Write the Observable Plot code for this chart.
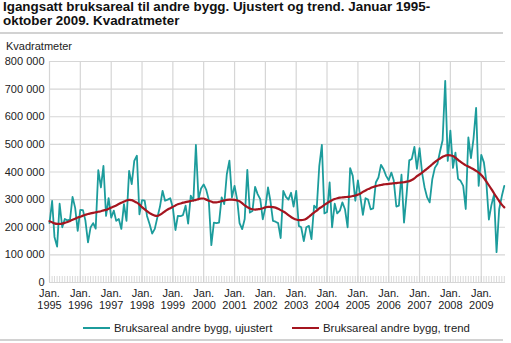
<!DOCTYPE html>
<html>
<head>
<meta charset="utf-8">
<script src="https://cdn.jsdelivr.net/npm/d3@7"></script>
<script src="https://cdn.jsdelivr.net/npm/@observablehq/plot@0.6"></script>
<style>
  html, body { margin: 0; padding: 0; background: #fff; }
  body { width: 511px; height: 343px; position: relative; overflow: hidden;
         font-family: "Liberation Sans", Arial, Helvetica, sans-serif; color: #222; }
  #title { position: absolute; left: 3px; top: 0px; font-size: 13.4px; font-weight: bold; line-height: 13.5px; color: #111; white-space: nowrap; }
  .rule { position: absolute; left: 0; width: 503px; height: 2px; background: #d2d2d2; }
  #ylabel { position: absolute; left: 6px; top: 40px; font-size: 11px; color: #222; }
  #chart { position: absolute; left: 0; top: 36px; }
  #legend { position: absolute; top: 321px; left: 0; width: 511px; font-size: 11.4px; color: #222; }
  .item { position: absolute; top: 0; display: flex; align-items: center; height: 14px; white-space: nowrap; }
  .sw { display: inline-block; width: 27px; height: 2px; margin-right: 4px; }
</style>
</head>
<body>
<div id="title">Igangsatt bruksareal til andre bygg. Ujustert og trend. Januar 1995-<br>oktober 2009. Kvadratmeter</div>
<div class="rule" style="top:32px"></div>
<div id="ylabel">Kvadratmeter</div>
<div id="chart"></div>
<div id="legend"></div>
<div class="rule" style="top:339px"></div>
<script>
// Series names
const seriesNames = ["Bruksareal andre bygg, ujustert", "Bruksareal andre bygg, trend"];
const seriesColors = ["#1c9c9c", "#a5151f"];

// Monthly periods: January 1995 – October 2009
const months = d3.utcMonths(new Date(Date.UTC(1995, 0, 1)), new Date(Date.UTC(2009, 10, 1)));

// Unadjusted values (square metres)
const ujustert = [
  215000, 295000, 165000, 130000, 285000, 200000, 230000, 225000, 228000, 310000, 270000, 187000, // 1995
  263000, 262000, 225000, 145000, 199000, 215000, 195000, 407000, 344000, 422000, 241000, 305000, // 1996
  235000, 260000, 223000, 230000, 194000, 284000, 223000, 404000, 356000, 440000, 459000, 247000, // 1997
  298000, 296000, 241000, 211000, 177000, 194000, 235000, 274000, 332000, 296000, 300000, 305000, // 1998
  271000, 190000, 241000, 240000, 244000, 278000, 213000, 314000, 296000, 498000, 302000, 340000, // 1999
  355000, 335000, 300000, 135000, 217000, 215000, 217000, 308000, 284000, 392000, 441000, 308000, // 2000
  350000, 300000, 215000, 193000, 230000, 408000, 253000, 259000, 346000, 320000, 302000, 229000, // 2001
  271000, 344000, 296000, 223000, 220000, 215000, 161000, 332000, 310000, 300000, 325000, 275000, // 2002
  332000, 205000, 200000, 150000, 200000, 205000, 157000, 278000, 268000, 420000, 498000, 250000, // 2003
  255000, 362000, 200000, 285000, 250000, 260000, 290000, 265000, 200000, 414000, 386000, 296000, // 2004
  370000, 305000, 245000, 305000, 300000, 265000, 268000, 362000, 380000, 426000, 410000, 386000, // 2005
  370000, 398000, 370000, 275000, 278000, 390000, 217000, 320000, 442000, 447000, 491000, 411000, // 2006
  486000, 395000, 345000, 308000, 290000, 374000, 415000, 430000, 475000, 515000, 730000, 440000, // 2007
  550000, 415000, 470000, 375000, 368000, 350000, 266000, 525000, 450000, 520000, 632000, 350000, // 2008
  462000, 435000, 368000, 228000, 280000, 318000, 110000, 265000, 312000, 350000                  // 2009
];

// Trend values (square metres)
const trend = [
  222000, 218000, 214000, 212000, 212000, 213000, 216000, 219000, 223000, 227000, 231000, 235000, // 1995
  238000, 242000, 245000, 248000, 250000, 252000, 254000, 256000, 258000, 261000, 263000, 267000, // 1996
  271000, 275000, 279000, 284000, 289000, 293000, 297000, 299000, 298000, 294000, 289000, 282000, // 1997
  273000, 265000, 258000, 251000, 246000, 242000, 241000, 245000, 251000, 258000, 264000, 269000, // 1998
  274000, 279000, 283000, 286000, 289000, 291000, 293000, 295000, 297000, 299000, 302000, 304000, // 1999
  304000, 300000, 296000, 293000, 290000, 290000, 292000, 295000, 297000, 299000, 300000, 300000, // 2000
  299000, 297000, 294000, 287000, 279000, 273000, 268000, 265000, 264000, 265000, 266000, 269000, // 2001
  272000, 274000, 274000, 273000, 271000, 267000, 262000, 257000, 251000, 244000, 237000, 232000, // 2002
  228000, 226000, 226000, 227000, 231000, 238000, 246000, 253000, 260000, 268000, 274000, 281000, // 2003
  287000, 293000, 298000, 302000, 305000, 307000, 308000, 309000, 310000, 311000, 313000, 315000, // 2004
  318000, 322000, 328000, 333000, 338000, 342000, 346000, 349000, 351000, 353000, 355000, 356000, // 2005
  357000, 358000, 359000, 360000, 361000, 362000, 363000, 365000, 367000, 371000, 377000, 385000, // 2006
  391000, 398000, 405000, 412000, 420000, 428000, 436000, 443000, 449000, 455000, 459000, 461000, // 2007
  460000, 458000, 452000, 444000, 437000, 430000, 424000, 420000, 415000, 410000, 404000, 398000, // 2008
  389000, 378000, 366000, 352000, 338000, 323000, 309000, 295000, 282000, 272000                  // 2009
];

// Axis ticks
const yTicks = [0, 100000, 200000, 300000, 400000, 500000, 600000, 700000, 800000];
const yTickLabels = ["0", "100 000", "200 000", "300 000", "400 000", "500 000", "600 000", "700 000", "800 000"];
const xYears = [1995, 1996, 1997, 1998, 1999, 2000, 2001, 2002, 2003, 2004, 2005, 2006, 2007, 2008, 2009];
const xTickPrefix = "Jan.";

const yearDates = xYears.map(y => new Date(Date.UTC(y, 0, 1)));
const rows = months.map((d, i) => ({date: d, ujustert: ujustert[i], trend: trend[i]}));

const gridColor = "#d6d6d6";
const plotTop = 25, plotBottom = 30, svgHeight = 276;
const innerH = svgHeight - plotTop - plotBottom;

const chart = Plot.plot({
  width: 511,
  height: svgHeight,
  marginTop: plotTop,
  marginBottom: plotBottom,
  marginLeft: 49,
  marginRight: 6,
  style: {fontFamily: "'Liberation Sans', Arial, sans-serif", fontSize: "11px", color: "#222", background: "transparent"},
  x: {type: "utc", domain: [new Date(Date.UTC(1995, 0, 1)), new Date(Date.UTC(2009, 9, 15))]},
  y: {domain: [0, 800000]},
  marks: [
    Plot.ruleY(yTicks, {stroke: gridColor, strokeWidth: 1.2}),
    Plot.ruleX(yearDates, {stroke: gridColor, strokeWidth: 1.2}),
    Plot.ruleX(months, {stroke: "#cfcfcf", strokeWidth: 0.8, insetTop: innerH - 6}),
    Plot.lineY(rows, {x: "date", y: "ujustert", stroke: seriesColors[0], strokeWidth: 1.8, strokeLinejoin: "round"}),
    Plot.lineY(rows, {x: "date", y: "trend", stroke: seriesColors[1], strokeWidth: 2.2, curve: "monotone-x"}),
    Plot.axisY(yTicks, {tickSize: 0, tickPadding: 5, label: null, tickFormat: (d) => yTickLabels[yTicks.indexOf(d)]}),
    Plot.axisX(yearDates, {tickSize: 0, tickPadding: 6, label: null, lineHeight: 1.1,
      tickFormat: (d) => `${xTickPrefix}\n${d.getUTCFullYear()}`})
  ]
});
document.getElementById("chart").appendChild(chart);

// Legend
const legend = document.getElementById("legend");
const legendX = [83, 292];
seriesNames.forEach((name, i) => {
  const item = document.createElement("div");
  item.className = "item";
  item.style.left = legendX[i] + "px";
  const sw = document.createElement("span");
  sw.className = "sw";
  sw.style.background = seriesColors[i];
  const t = document.createElement("span");
  t.textContent = name;
  item.appendChild(sw);
  item.appendChild(t);
  legend.appendChild(item);
});
</script>
</body>
</html>
